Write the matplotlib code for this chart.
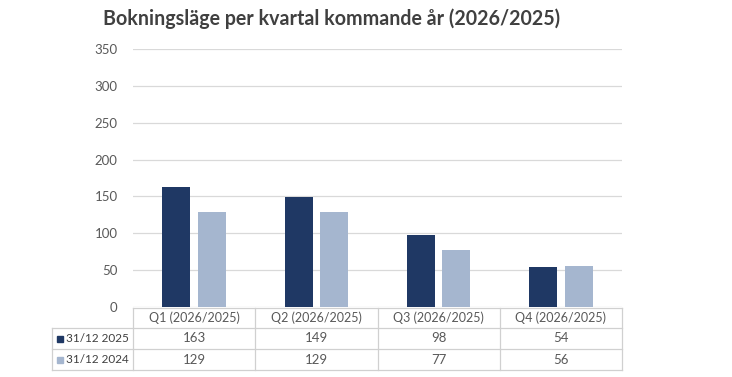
import matplotlib
matplotlib.use("Agg")
import matplotlib.pyplot as plt
from matplotlib.lines import Line2D
from matplotlib.patches import Rectangle

categories = ["Q1 (2026/2025)", "Q2 (2026/2025)", "Q3 (2026/2025)", "Q4 (2026/2025)"]
series_names = ["31/12 2025", "31/12 2024"]
values_2025 = [163, 149, 98, 54]
values_2024 = [129, 129, 77, 56]
yticks = [0, 50, 100, 150, 200, 250, 300, 350]
title = "Bokningsläge per kvartal kommande år (2026/2025)"

colors = ["#1f3864", "#a5b6cf"]
grid_c = "#d9d9d9"
text_c = "#595959"
plt.rcParams['font.family'] = ['Lato', 'DejaVu Sans']

W, H = 732, 377
fig = plt.figure(figsize=(W / 100, H / 100), dpi=100)

def fx(px):
    return px / W

def fy(py):
    return 1 - py / H

x0, x1, ytop, ybot = 133, 622, 49, 307
ax = fig.add_axes([fx(x0), fy(ybot), fx(x1) - fx(x0), fy(ytop) - fy(ybot)])

n = len(categories)
xs = list(range(n))
bw = 0.23
off = 0.145
ax.bar([x - off for x in xs], values_2025, width=bw, color=colors[0], zorder=3)
ax.bar([x + off for x in xs], values_2024, width=bw, color=colors[1], zorder=3)
ax.set_xlim(-0.5, n - 0.5)
ax.set_ylim(0, 350)
ax.set_yticks(yticks)
ax.set_yticklabels([str(t) for t in yticks], fontsize=9.5, color=text_c)
ax.tick_params(axis='y', length=0, pad=11)
ax.set_xticks([])
ax.grid(axis='y', color=grid_c, linewidth=0.9, zorder=0)
for s in ax.spines.values():
    s.set_visible(False)

fig.text(fx(103), fy(19), title, fontsize=14.1, fontweight='bold', color="#404040",
         ha='left', va='center')

# data table under the chart
lc = "#d0d0d0"
lw = 0.9
rows_y = [308, 328, 349, 370]
label_left = 52
col_edges = [x0 + (x1 - x0) * i / n for i in range(n + 1)]

def hline(y, xa, xb):
    fig.add_artist(Line2D([fx(xa), fx(xb)], [fy(y), fy(y)], color=lc, lw=lw))

def vline(x, ya, yb):
    fig.add_artist(Line2D([fx(x), fx(x)], [fy(ya), fy(yb)], color=lc, lw=lw))

hline(rows_y[0], x0, x1)
for y in rows_y[1:]:
    hline(y, label_left, x1)
for i, x in enumerate(col_edges):
    vline(x, rows_y[0], rows_y[-1])
vline(label_left, rows_y[1], rows_y[-1])

for i, cat in enumerate(categories):
    cx = (col_edges[i] + col_edges[i + 1]) / 2
    fig.text(fx(cx), fy((rows_y[0] + rows_y[1]) / 2), cat, fontsize=9,
             color=text_c, ha='center', va='center')
    for r, vals in enumerate([values_2025, values_2024]):
        fig.text(fx(cx), fy((rows_y[r + 1] + rows_y[r + 2]) / 2), str(vals[i]),
                 fontsize=9.5, color=text_c, ha='center', va='center')

for r, name in enumerate(series_names):
    yc = (rows_y[r + 1] + rows_y[r + 2]) / 2
    fig.add_artist(Rectangle((fx(57), fy(yc + 3)), fx(6), 6 / H,
                             color=colors[r], transform=fig.transFigure))
    fig.text(fx(66), fy(yc), name, fontsize=8.5, color="#404040",
             ha='left', va='center')

fig.savefig("out.png", dpi=100, facecolor="white")
